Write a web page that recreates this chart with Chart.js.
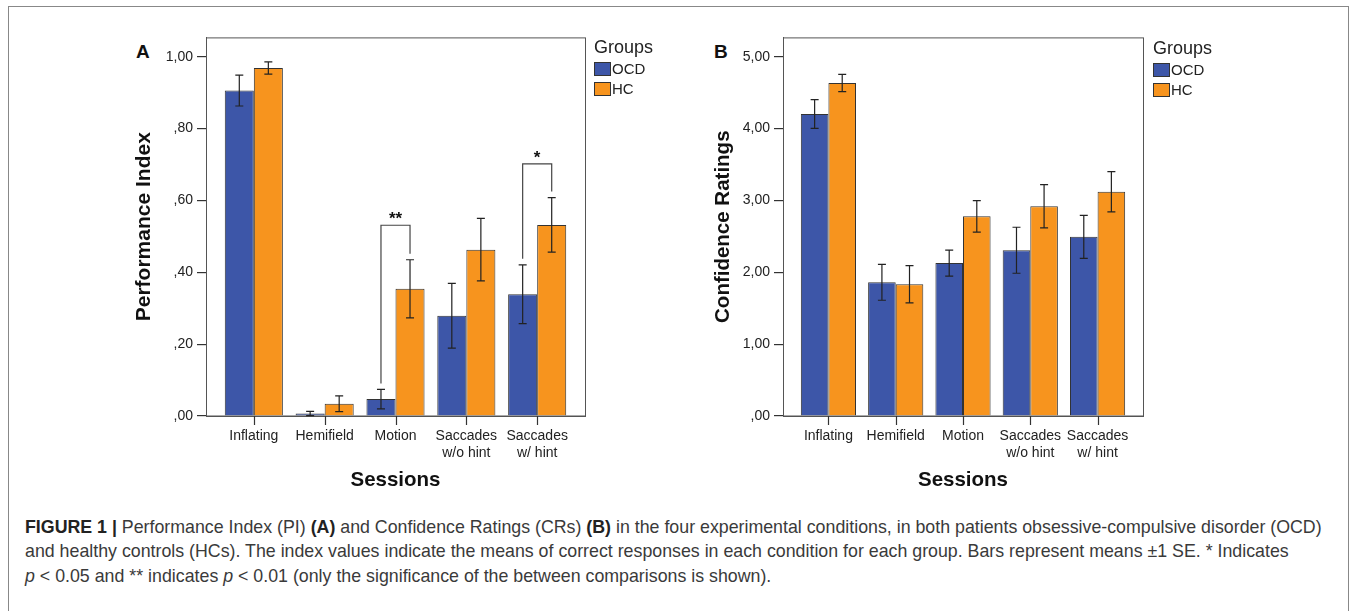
<!DOCTYPE html>
<html>
<head>
<meta charset="utf-8">
<script src="https://cdn.jsdelivr.net/npm/chart.js@4/dist/chart.umd.min.js"></script>
<style>
  body { margin: 0; width: 1354px; height: 611px; background: #fff; overflow: hidden; font-family: "Liberation Sans", Arial, sans-serif; position: relative; }
  .frame { position: absolute; left: 8px; top: 6px; width: 1339px; height: 640px; border: 1.5px solid #888; }
  .panel { position: absolute; top: 25px; width: 540px; height: 475px; }
  .letter { position: absolute; font-weight: bold; font-size: 19px; color: #111; }
  .legend { position: absolute; color: #222; }
  .legend .ttl { font-size: 18px; margin-bottom: 4px; }
  .legend .item { font-size: 15px; height: 20px; line-height: 14px; display: flex; align-items: flex-start; }
  .legend .sw { width: 15px; height: 12px; border: 1px solid #333; margin-right: 1px; }
  .caption { position: absolute; left: 25px; top: 514.5px; font-size: 17.8px; line-height: 24.5px; color: #3a3a3a; white-space: nowrap; }
  .caption b { color: #222; }
</style>
</head>
<body>
<div class="frame"></div>
<div class="letter" style="left:136px; top:41px;">A</div>
<div class="letter" style="left:714px; top:41px;">B</div>
<canvas id="chartA" class="panel" width="540" height="475" style="left:130px;"></canvas>
<canvas id="chartB" class="panel" width="540" height="475" style="left:709px;"></canvas>

<div class="legend" style="left:594px; top:37px;">
  <div class="ttl">Groups</div>
  <div class="item"><span class="sw" style="background:#3d56a8"></span>OCD</div>
  <div class="item"><span class="sw" style="background:#f7941e"></span>HC</div>
</div>
<div class="legend" style="left:1153px; top:38px;">
  <div class="ttl">Groups</div>
  <div class="item"><span class="sw" style="background:#3d56a8"></span>OCD</div>
  <div class="item"><span class="sw" style="background:#f7941e"></span>HC</div>
</div>

<div class="caption"><b>FIGURE 1 |</b> Performance Index (PI) <b>(A)</b> and Confidence Ratings (CRs) <b>(B)</b> in the four experimental conditions, in both patients obsessive-compulsive disorder (OCD)<br>and healthy controls (HCs). The index values indicate the means of correct responses in each condition for each group. Bars represent means ±1 SE. * Indicates<br><i>p</i> &lt; 0.05 and ** indicates <i>p</i> &lt; 0.01 (only the significance of the between comparisons is shown).</div>

<script>
// categories (session names), multi-line as printed
const sessions = [['Inflating'], ['Hemifield'], ['Motion'], ['Saccades', 'w/o hint'], ['Saccades', 'w/ hint']];
const groups = ['OCD', 'HC'];

// panel A: performance index, means and SE
const piOCD = [0.906, 0.007, 0.047, 0.279, 0.339];
const piHC = [0.969, 0.034, 0.354, 0.463, 0.532];
const piOCDse = [0.043, 0.006, 0.027, 0.090, 0.082];
const piHCse = [0.017, 0.022, 0.081, 0.087, 0.076];
const piTicks = [0, 0.2, 0.4, 0.6, 0.8, 1.0];
const piTickLabels = [',00', ',20', ',40', ',60', ',80', '1,00'];
// significance brackets: category index, bracket height, stars
const piBrackets = [
  { cat: 2, top: 0.531, label: '**' },
  { cat: 4, top: 0.702, label: '*' }
];

// panel B: confidence ratings, means and SE
const crOCD = [4.205, 1.861, 2.128, 2.307, 2.494];
const crHC = [4.636, 1.834, 2.779, 2.920, 3.122];
const crOCDse = [0.20, 0.25, 0.18, 0.32, 0.30];
const crHCse = [0.12, 0.26, 0.22, 0.30, 0.28];
const crTicks = [0, 1, 2, 3, 4, 5];
const crTickLabels = [',00', '1,00', '2,00', '3,00', '4,00', '5,00'];

const blue = '#3d56a8';
const orange = '#f7941e';
const ink = '#333';

// error bars + brackets + box frame + x tick marks
const extrasPlugin = {
  id: 'extras',
  afterDatasetsDraw(chart) {
    const { ctx, chartArea, scales } = chart;
    const yScale = scales.y;
    const xScale = scales.x;
    const cfg = chart.options.plugins.extras;
    ctx.save();
    // frame around plot area
    ctx.strokeStyle = '#555';
    ctx.lineWidth = 1;
    ctx.strokeRect(chartArea.left + 0.5, chartArea.top + 0.5, chartArea.width, chartArea.height - 0.5);

    // short tick marks under the x axis, one per session
    ctx.strokeStyle = '#333';
    ctx.lineWidth = 1.2;
    ctx.beginPath();
    sessions.forEach((_, i) => {
      const px = Math.round(xScale.getPixelForValue(i)) + 0.5;
      ctx.moveTo(px, chartArea.bottom);
      ctx.lineTo(px, chartArea.bottom + 9);
    });
    ctx.stroke();

    ctx.strokeStyle = '#222';
    chart.data.datasets.forEach((ds, d) => {
      const meta = chart.getDatasetMeta(d);
      meta.data.forEach((bar, i) => {
        const m = ds.data[i].y;
        const se = cfg.se[d][i];
        const yHi = yScale.getPixelForValue(m + se);
        const yLo = yScale.getPixelForValue(Math.max(m - se, 0));
        ctx.beginPath();
        ctx.moveTo(bar.x, yHi); ctx.lineTo(bar.x, yLo);
        ctx.moveTo(bar.x - 4, yHi); ctx.lineTo(bar.x + 4, yHi);
        ctx.moveTo(bar.x - 4, yLo); ctx.lineTo(bar.x + 4, yLo);
        ctx.stroke();
      });
    });

    ctx.strokeStyle = '#444';
    ctx.fillStyle = '#111';
    ctx.font = 'bold 17px "Liberation Sans", Arial, sans-serif';
    ctx.textAlign = 'center';
    ctx.textBaseline = 'middle';
    (cfg.brackets || []).forEach(b => {
      const b0 = chart.getDatasetMeta(0).data[b.cat];
      const b1 = chart.getDatasetMeta(1).data[b.cat];
      const d0 = chart.data.datasets[0].data[b.cat].y + cfg.se[0][b.cat];
      const d1 = chart.data.datasets[1].data[b.cat].y + cfg.se[1][b.cat];
      const yTop = yScale.getPixelForValue(b.top);
      ctx.beginPath();
      ctx.moveTo(b0.x, yScale.getPixelForValue(d0) - 6);
      ctx.lineTo(b0.x, yTop);
      ctx.lineTo(b1.x, yTop);
      ctx.lineTo(b1.x, yScale.getPixelForValue(d1) - 6);
      ctx.stroke();
      ctx.fillText(b.label, (b0.x + b1.x) / 2, yTop - 6);
    });
    ctx.restore();
  }
};

function makeChart(id, p) {
  const toPoints = arr => arr.map((v, i) => ({ x: i, y: v }));
  return new Chart(document.getElementById(id), {
    type: 'bar',
    data: {
      datasets: [
        { label: groups[0], data: toPoints(p.ocd), backgroundColor: blue, borderColor: ink, borderWidth: 1 },
        { label: groups[1], data: toPoints(p.hc), backgroundColor: orange, borderColor: ink, borderWidth: 1 }
      ]
    },
    options: {
      responsive: false,
      animation: false,
      layout: { padding: { top: 8, right: p.padRight, left: 0, bottom: 0 } },
      datasets: { bar: { categoryPercentage: 0.82, barPercentage: 1, grouped: true } },
      plugins: {
        legend: { display: false },
        tooltip: { enabled: false },
        extras: { se: [p.ocdSE, p.hcSE], brackets: p.brackets }
      },
      scales: {
        x: {
          type: 'linear',
          offset: false,
          min: -0.675,
          max: sessions.length - 1 + 0.675,
          afterBuildTicks: s => { s.ticks = sessions.map((_, i) => ({ value: i })); },
          afterFit: s => { s.height = 84; },
          ticks: {
            autoSkip: false,
            maxRotation: 0,
            padding: 12,
            color: '#222',
            font: { family: '"Liberation Sans", Arial, sans-serif', size: 14 },
            callback: v => sessions[v]
          },
          grid: { display: false, drawTicks: false },
          border: { display: true, color: '#555' },
          title: {
            display: true,
            text: 'Sessions',
            color: '#111',
            font: { family: '"Liberation Sans", Arial, sans-serif', size: 20.5, weight: 'bold' },
            padding: { top: 4, bottom: 7 }
          }
        },
        y: {
          min: 0,
          max: p.yMax,
          afterBuildTicks: s => { s.ticks = p.ticks.map(v => ({ value: v })); },
          afterFit: s => { s.width = p.yWidth; },
          ticks: {
            padding: 4,
            color: '#222',
            font: { family: '"Liberation Sans", Arial, sans-serif', size: 14 },
            callback: (v, i) => p.tickLabels[i]
          },
          grid: { drawOnChartArea: false, drawTicks: true, tickLength: 9, color: '#333', lineWidth: 1.2 },
          border: { display: true, color: '#555' },
          title: {
            display: true,
            text: p.yTitle,
            color: '#111',
            font: { family: '"Liberation Sans", Arial, sans-serif', size: p.yTitleSize, weight: 'bold' },
            padding: { top: 2, bottom: 4 }
          }
        }
      }
    },
    plugins: [extrasPlugin]
  });
}

makeChart('chartA', {
  ocd: piOCD, hc: piHC, ocdSE: piOCDse, hcSE: piHCse,
  ticks: piTicks, tickLabels: piTickLabels, yMax: 1.054,
  yTitle: 'Performance Index', yTitleSize: 21, yWidth: 76, padRight: 85, brackets: piBrackets
});
makeChart('chartB', {
  ocd: crOCD, hc: crHC, ocdSE: crOCDse, hcSE: crHCse,
  ticks: crTicks, tickLabels: crTickLabels, yMax: 5.27,
  yTitle: 'Confidence Ratings', yTitleSize: 20.5, yWidth: 74, padRight: 106, brackets: []
});
</script>
</body>
</html>
